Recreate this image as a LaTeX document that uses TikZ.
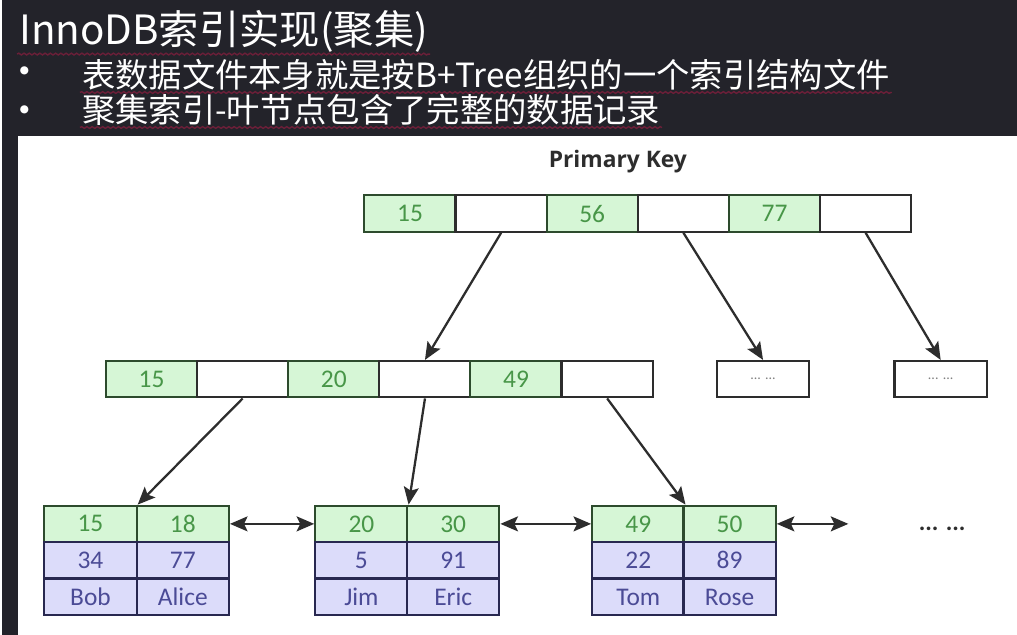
\documentclass[tikz,border=0pt]{standalone}
\usepackage{fontspec}
\setmainfont{Carlito}
\newfontfamily\cjkfont{Noto Sans CJK SC}
\newfontfamily\headfont{Open Sans}
\usetikzlibrary{arrows.meta,positioning,decorations.pathmorphing}

\definecolor{slidebg}{RGB}{35,35,42}
\definecolor{keyfill}{RGB}{214,246,214}
\definecolor{keytext}{RGB}{72,150,72}
\definecolor{keyline}{RGB}{45,75,45}
\definecolor{rowfill}{RGB}{220,220,250}
\definecolor{rowtext}{RGB}{75,75,150}
\definecolor{rowline}{RGB}{40,40,80}
\definecolor{edge}{RGB}{45,45,45}
\definecolor{spell}{RGB}{125,30,60}

\tikzset{
  cell/.style={draw=edge, line width=1.2pt, minimum width=1.83cm, minimum height=0.73cm,
    inner sep=0pt, font=\fontsize{14.5}{16}\selectfont},
  keycell/.style={cell, draw=keyline, fill=keyfill, text=keytext},
  ptrcell/.style={cell, fill=white},
  leafkey/.style={keycell, minimum width=1.85cm},
  datacell/.style={cell, minimum width=1.85cm, draw=rowline, fill=rowfill, text=rowtext},
  headtext/.style={anchor=west, text=white, inner sep=1pt, font=\cjkfont\fontsize{19}{23}\selectfont},
  squiggle/.style={spell, line width=0.8pt, opacity=0.8, decorate,
    decoration={snake, amplitude=0.5pt, segment length=3pt}},
  ptr/.style={draw=edge, line width=1.3pt, -{Stealth[length=10pt,width=8.5pt,inset=2pt]}},
  link/.style={ptr, {Stealth[length=10pt,width=8.5pt,inset=2pt]}-{Stealth[length=10pt,width=8.5pt,inset=2pt]}},
}

\begin{document}
\begin{tikzpicture}[x=0.02cm, y=-0.02cm]
% slide and white panel
\fill[slidebg] (0,0) rectangle (1017,636);
\fill[white] (16,136) rectangle (1017,636);

% slide heading
\node[headtext, font=\cjkfont\fontsize{23}{27}\selectfont] (title) at (15,31) {InnoDB索引实现(聚集)};
\node[text=white, font=\cjkfont\fontsize{22}{24}\selectfont] (dot1) at (23,76) {•};
\node[text=white, font=\cjkfont\fontsize{22}{24}\selectfont] (dot2) at (23,115) {•};
\node[headtext] (line1) at (78,75) {表数据文件本身就是按B+Tree组织的一个索引结构文件};
\node[headtext] (line2) at (78,110) {聚集索引-叶节点包含了完整的数据记录};
\draw[squiggle] (title.south west) -- (title.south east);
\draw[squiggle] (line1.south west) -- (line1.south east);
\draw[squiggle] (line2.south west) -- (line2.south east);

\node[font=\headfont\bfseries\fontsize{13}{15}\selectfont, text=edge] (pk) at (617,162) {Primary Key};

% root
\node[keycell] (r1) at (408.7,214) {15};
\node[ptrcell] (r2) at (500,214) {};
\node[keycell] (r3) at (591.3,214) {56};
\node[ptrcell] (r4) at (682.7,214) {};
\node[keycell] (r5) at (774,214) {77};
\node[ptrcell] (r6) at (865.3,214) {};

% second level
\node[keycell] (m1) at (149.7,380) {15};
\node[ptrcell] (m2) at (241,380) {};
\node[keycell] (m3) at (332.3,380) {20};
\node[ptrcell] (m4) at (423.7,380) {};
\node[keycell] (m5) at (515,380) {49};
\node[ptrcell] (m6) at (606.3,380) {};
\node[ptrcell, minimum width=1.85cm, text=gray, font=\fontsize{8}{9}\selectfont] (more1) at (762.5,380) {... ...};
\node[ptrcell, minimum width=1.85cm, text=gray, font=\fontsize{8}{9}\selectfont] (more2) at (940.5,380) {... ...};

% leaves
\node[leafkey] (a1k) at (88.5,525) {15};
\node[leafkey] (a2k) at (181,525) {18};
\node[datacell] (a1v) at (88.5,561.5) {34};
\node[datacell] (a2v) at (181,561.5) {77};
\node[datacell] (a1n) at (88.5,598.5) {Bob};
\node[datacell] (a2n) at (181,598.5) {Alice};

\node[leafkey] (b1k) at (360,525) {20};
\node[leafkey] (b2k) at (452,525) {30};
\node[datacell] (b1v) at (360,561.5) {5};
\node[datacell] (b2v) at (452,561.5) {91};
\node[datacell] (b1n) at (360,598.5) {Jim};
\node[datacell] (b2n) at (452,598.5) {Eric};

\node[leafkey] (c1k) at (637.5,525) {49};
\node[leafkey] (c2k) at (729,525) {50};
\node[datacell] (c1v) at (637.5,561.5) {22};
\node[datacell] (c2v) at (729,561.5) {89};
\node[datacell] (c1n) at (637.5,598.5) {Tom};
\node[datacell] (c2n) at (729,598.5) {Rose};

\node[text=edge, font=\bfseries\fontsize{14}{16}\selectfont] (tail) at (942,530) {... ...};
\coordinate (next) at (848,525);

% pointers
\draw[ptr] (r2.south) -- (m4.north);
\draw[ptr] (r4.south) -- (more1.north);
\draw[ptr] (r6.south) -- (more2.north);
\draw[ptr] (m2.south) -- (a1k.north east);
\draw[ptr] (m4.south) -- (b1k.north east);
\draw[ptr] (m6.south) -- (c1k.north east);
\draw[link] (a2k.east) -- (b1k.west);
\draw[link] (b2k.east) -- (c1k.west);
\draw[link] (c2k.east) -- (next);
\end{tikzpicture}
\end{document}
